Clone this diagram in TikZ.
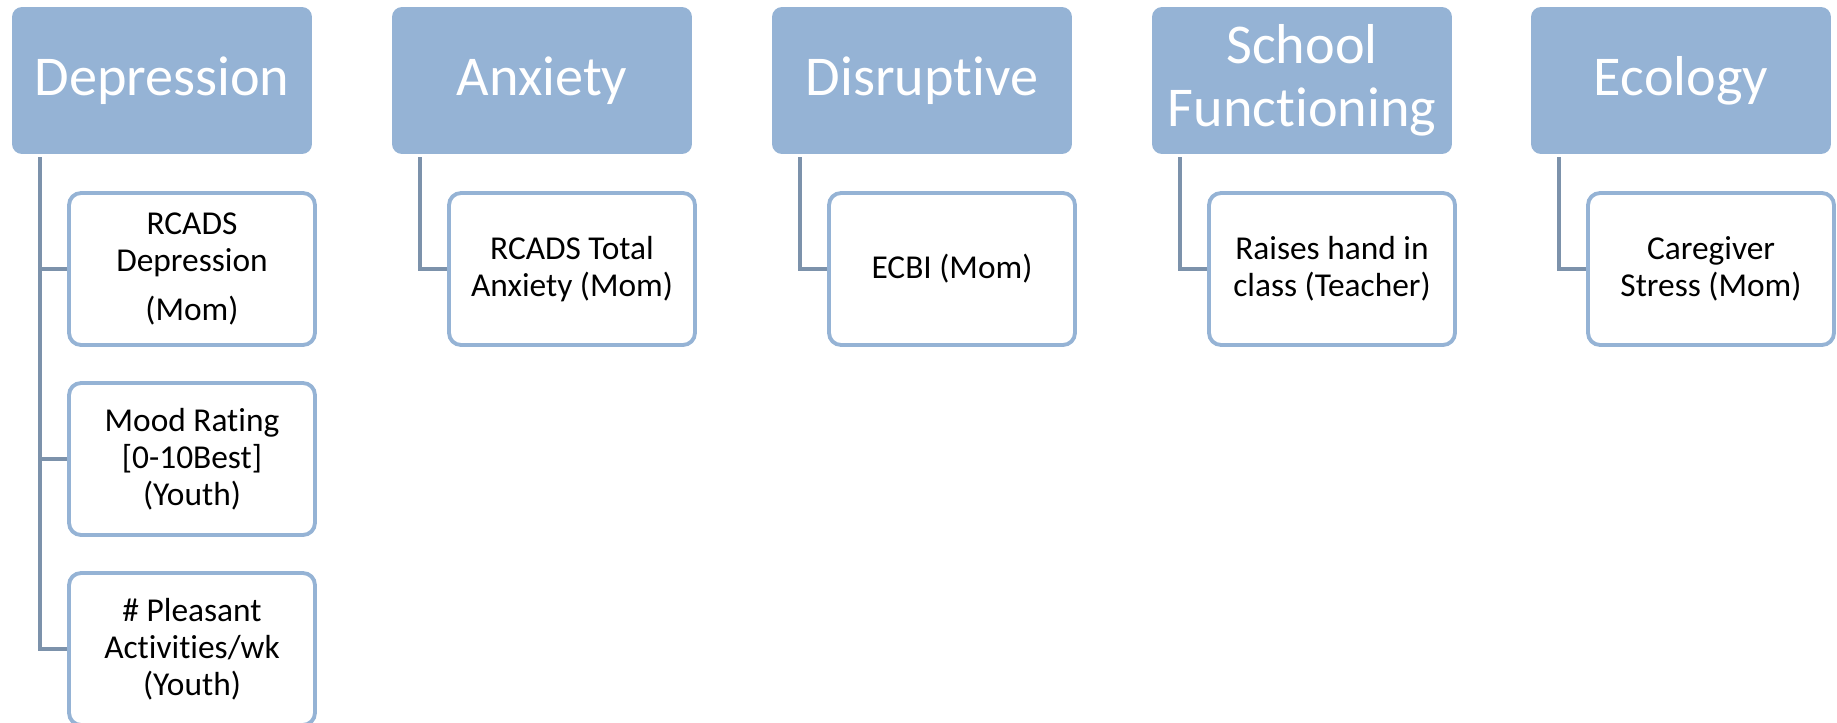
\documentclass[tikz,border=0pt]{standalone}
\usepackage{fontspec}
\setmainfont[Ligatures={NoCommon,NoContextual},Contextuals=NoAlternate]{Carlito}
\definecolor{hdrblue}{RGB}{149,179,213}
\definecolor{linkgray}{RGB}{124,146,171}
\tikzset{
 areabox/.style={fill=hdrblue, text=white, rounded corners=0.2cm, minimum width=6cm, minimum height=2.94cm, align=center, inner sep=0pt, font=\fontsize{32}{36}\selectfont},
 itembox/.style={draw=hdrblue, line width=2.2pt, fill=white, rounded corners=0.24cm, minimum width=4.92cm, minimum height=3.04cm, align=center, inner sep=0pt, font=\fontsize{19}{21}\selectfont},
 treeline/.style={draw=linkgray, line width=2.2pt},
 trunk/.style={xshift=0.56cm, yshift=-0.06cm}
}
\begin{document}
\begin{tikzpicture}[x=0.02cm,y=-0.02cm]
 \useasboundingbox (0,0) rectangle (1837,723);
 % headers
 \node[areabox] (dep) at (162,80.5) {Depression};
 \node[areabox] (anx) at (542,80.5) {Anxiety};
 \node[areabox] (dis) at (922,80.5) {Disruptive};
 \node[areabox] (sch) at (1302,80.5) {School\\Functioning};
 \node[areabox] (eco) at (1681,80.5) {Ecology};
 % measures
 \node[itembox] (dep1) at (192,269) {RCADS\\Depression\\[7pt](Mom)};
 \node[itembox] (dep2) at (192,459) {Mood Rating\\{}[0-10Best]\\(Youth)};
 \node[itembox] (dep3) at (192,649) {\# Pleasant\\Activities/wk\\(Youth)};
 \node[itembox] (anx1) at (572,269) {RCADS Total\\Anxiety (Mom)};
 \node[itembox] (dis1) at (952,269) {ECBI (Mom)};
 \node[itembox] (sch1) at (1332,269) {Raises hand in\\class (Teacher)};
 \node[itembox] (eco1) at (1711,269) {Caregiver\\Stress (Mom)};
 % connectors
 \draw[treeline] ([trunk]dep.south west) |- (dep1.west);
 \draw[treeline] ([trunk]dep.south west) |- (dep2.west);
 \draw[treeline] ([trunk]dep.south west) |- (dep3.west);
 \draw[treeline] ([trunk]anx.south west) |- (anx1.west);
 \draw[treeline] ([trunk]dis.south west) |- (dis1.west);
 \draw[treeline] ([trunk]sch.south west) |- (sch1.west);
 \draw[treeline] ([trunk]eco.south west) |- (eco1.west);
\end{tikzpicture}
\end{document}
